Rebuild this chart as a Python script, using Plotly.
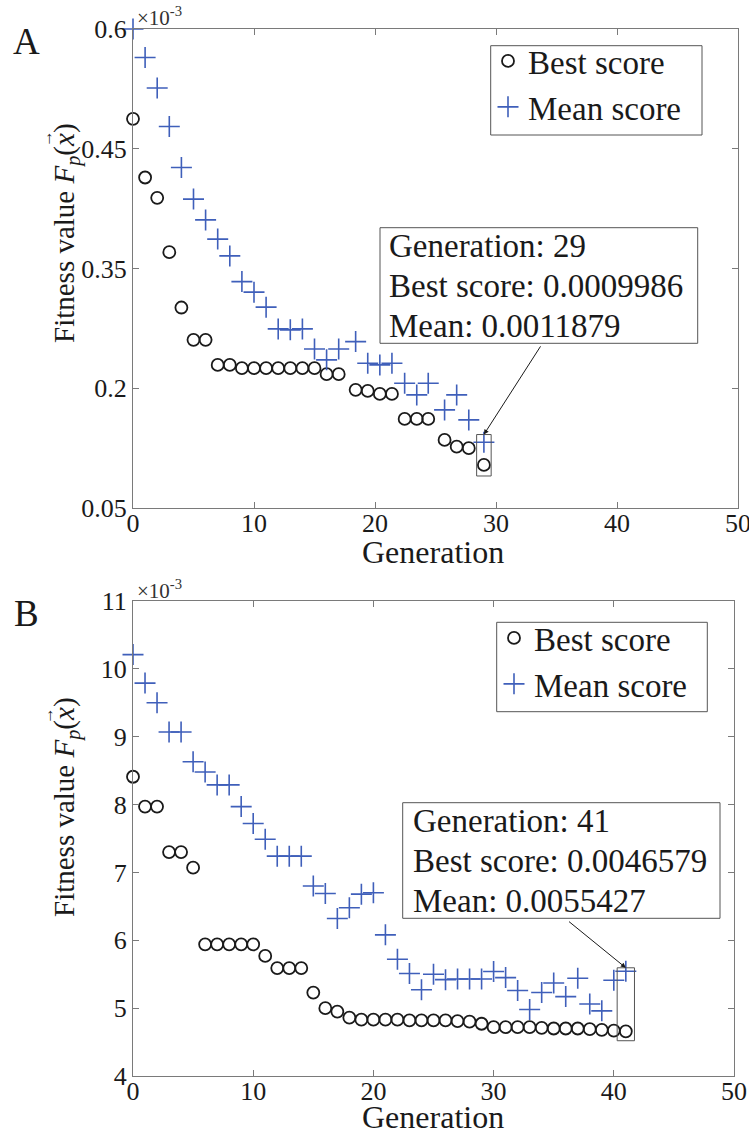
import plotly.graph_objects as go

W, H = 749, 1133

# ---------------- data (fitness values in units of 1e-3) ----------------
# Run A
gen_a = [0, 1, 2, 3, 4, 5, 6, 7, 8, 9, 10, 11, 12, 13, 14, 15, 16, 17,
         18.4, 19.4, 20.4, 21.4, 22.45, 23.45, 24.4, 25.75, 26.75, 27.75, 29]
best_a = [3.882, 3.393, 3.224, 2.771, 2.310, 2.041, 2.041, 1.832, 1.832,
          1.805, 1.805, 1.805, 1.805, 1.805, 1.805, 1.805, 1.755, 1.755,
          1.624, 1.615, 1.590, 1.590, 1.382, 1.382, 1.382, 1.207, 1.151,
          1.138, 0.9986]
mean_a = [4.630, 4.393, 4.138, 3.818, 3.476, 3.213, 3.040, 2.880, 2.740,
          2.526, 2.438, 2.313, 2.132, 2.124, 2.132, 1.965, 1.874, 1.965,
          2.026, 1.846, 1.832, 1.846, 1.679, 1.582, 1.679, 1.457, 1.582,
          1.374, 1.1879]
ytick_text_a = ["0.05", "0.2", "0.35", "0.45", "0.6"]

# Run B
gen_b = list(range(42))
best_b = [8.41, 7.97, 7.97, 7.30, 7.30, 7.07, 5.94, 5.94, 5.94, 5.94, 5.94,
          5.77, 5.59, 5.59, 5.59, 5.23, 5.00, 4.95, 4.86, 4.83, 4.83, 4.83,
          4.83, 4.82, 4.82, 4.82, 4.82, 4.81, 4.80, 4.77, 4.72, 4.72, 4.72,
          4.72, 4.71, 4.70, 4.70, 4.70, 4.69, 4.68, 4.67, 4.6579]
mean_b = [10.21, 9.79, 9.50, 9.07, 9.07, 8.63, 8.48, 8.29, 8.29, 7.97,
          7.72, 7.49, 7.24, 7.24, 7.24, 6.80, 6.69, 6.32, 6.48, 6.68,
          6.70, 6.08, 5.72, 5.51, 5.27, 5.50, 5.42, 5.43, 5.43, 5.43,
          5.54, 5.45, 5.26, 4.98, 5.23, 5.37, 5.17, 5.44, 5.06, 4.96,
          5.41, 5.5427]
ytick_vals_b = [4, 5, 6, 7, 8, 9, 10, 11]
xtick_vals = [0, 10, 20, 30, 40, 50]

UNIT = 1e-3  # stored values are multiples of this

# ---------------- style ----------------
FONT = "Liberation Serif"
INK = "#1a1a1a"
AXIS = "#7a7a7a"
BLUE = "#3f5fba"


def px_x(p):
    return p / W


def px_y(p):
    return 1 - p / H


fig = go.Figure()


def add_run(gens, best, mean, xa, ya, legend):
    fig.add_trace(go.Scatter(
        x=gens, y=best, mode="markers", name="Best score",
        xaxis=xa, yaxis=ya, legend=legend, cliponaxis=False,
        marker=dict(symbol="circle-open", size=12, color=INK,
                    line=dict(width=1.8, color=INK))))
    fig.add_trace(go.Scatter(
        x=gens, y=mean, mode="markers", name="Mean score",
        xaxis=xa, yaxis=ya, legend=legend, cliponaxis=False,
        marker=dict(symbol="cross-thin-open", size=15, color=BLUE,
                    line=dict(width=1.6, color=BLUE))))


add_run(gen_a, best_a, mean_a, "x", "y", "legend")
add_run(gen_b, best_b, mean_b, "x2", "y2", "legend2")

axis_common = dict(
    showline=True, linecolor=AXIS, linewidth=1, mirror="ticks",
    ticks="inside", ticklen=6, tickcolor=AXIS, tickwidth=1,
    showgrid=False, zeroline=False, automargin=False,
    ticklabeloverflow="allow",
    tickfont=dict(family=FONT, size=26, color=INK),
)

# run A axis: ticks evenly spaced across the plotted range
ya_lo, ya_hi = 0.64, 4.63
ytick_vals_a = [ya_lo + i * (ya_hi - ya_lo) / (len(ytick_text_a) - 1)
                for i in range(len(ytick_text_a))]

legend_common = dict(xanchor="left", yanchor="top",
                     font=dict(family=FONT, size=33, color=INK),
                     bgcolor="rgba(0,0,0,0)", borderwidth=0, tracegroupgap=0)

fig.update_layout(
    width=W, height=H,
    margin=dict(l=0, r=0, t=0, b=0, pad=0, autoexpand=False),
    paper_bgcolor="white", plot_bgcolor="white",
    xaxis=dict(domain=[px_x(133), px_x(738)], range=[0, 50],
               tickvals=xtick_vals, anchor="y", ticklabelstandoff=-8,
               **axis_common),
    yaxis=dict(domain=[px_y(508), px_y(29)], range=[ya_lo, ya_hi],
               tickvals=ytick_vals_a, ticktext=ytick_text_a, anchor="x",
               **axis_common),
    xaxis2=dict(domain=[px_x(133), px_x(734)], range=[0, 50],
                tickvals=xtick_vals, anchor="y2", ticklabelstandoff=-8,
                **axis_common),
    yaxis2=dict(domain=[px_y(1076), px_y(601)], range=[4, 11],
                tickvals=ytick_vals_b, anchor="x2", **axis_common),
    legend=dict(x=px_x(488), y=px_y(33), **legend_common),
    legend2=dict(x=px_x(494), y=px_y(610), **legend_common),
    showlegend=True,
)

shapes = []
annotations = []

# legend frames
for (x0, y0, x1, y1) in [(490.7, 45.7, 702, 135), (496.7, 622.3, 707.3, 711.7)]:
    shapes.append(dict(type="rect", xref="paper", yref="paper",
                       x0=px_x(x0), x1=px_x(x1), y0=px_y(y1), y1=px_y(y0),
                       line=dict(color="#555555", width=1), layer="above"))


def text(x, y, s, size, color=INK, **kw):
    d = dict(x=px_x(x), y=px_y(y), xref="paper", yref="paper", text=s,
             showarrow=False, xanchor="center", yanchor="middle",
             font=dict(family=FONT, size=size, color=color))
    d.update(kw)
    annotations.append(d)


def datatip(gens, best, mean, xref, yref, box, text_x, text_y, pad, arrow):
    g, b, m = gens[-1], best[-1], mean[-1]
    x0, y0, x1, y1 = box
    shapes.append(dict(type="rect", xref="paper", yref="paper",
                       x0=px_x(x0), x1=px_x(x1), y0=px_y(y1), y1=px_y(y0),
                       line=dict(color="#555555", width=1),
                       fillcolor="white", layer="above"))
    lines = [f"Generation: {g}",
             f"Best score: {b * UNIT:.7f}",
             f"Mean: {m * UNIT:.7f}"]
    for i, s in enumerate(lines):
        text(text_x, text_y[i], s, 33, xanchor="left")
    dx, lo, hi = pad
    shapes.append(dict(type="rect", xref=xref, yref=yref,
                       x0=g - dx, x1=g + dx, y0=b - lo, y1=m + hi,
                       line=dict(color="#555555", width=1)))
    annotations.append(dict(x=g, y=m + hi, xref=xref, yref=yref, text="",
                            showarrow=True, arrowhead=2, arrowsize=1,
                            arrowwidth=1, arrowcolor=INK,
                            ax=arrow[0], ay=arrow[1]))


datatip(gen_a, best_a, mean_a, "x", "y", (380, 227.7, 697.7, 343.3),
        387, [246, 285.7, 326.3], (0.6, 0.092, 0.064), (57.6, -89.7))
datatip(gen_b, best_b, mean_b, "x2", "y2", (402.7, 802.7, 720, 918.3),
        410.5, [821, 860.7, 900.7], (0.72, 0.138, 0.052), (-58.3, -47.4))

# vertical axis titles; the vector arrow over x is set as its own glyph
ytitle = "Fitness value <i>F</i><sub><i>p</i></sub>(<i>x</i>)"
for cy, arrow_y in ((233, 139), (807, 716)):
    text(66, cy, ytitle, 29, textangle=-90)
    text(47, arrow_y, "\u2192", 17, textangle=-90)
for cy in (552, 1117):
    text(433, cy, "Generation", 32)
for cy in (16, 589):
    text(135, cy, "\u00d710<sup>-3</sup>", 21, color="#333333",
         xanchor="left")
text(26.5, 41, "A", 37)
text(26, 613, "B", 37)

fig.update_layout(shapes=shapes, annotations=annotations)

fig.write_html("out.html")
